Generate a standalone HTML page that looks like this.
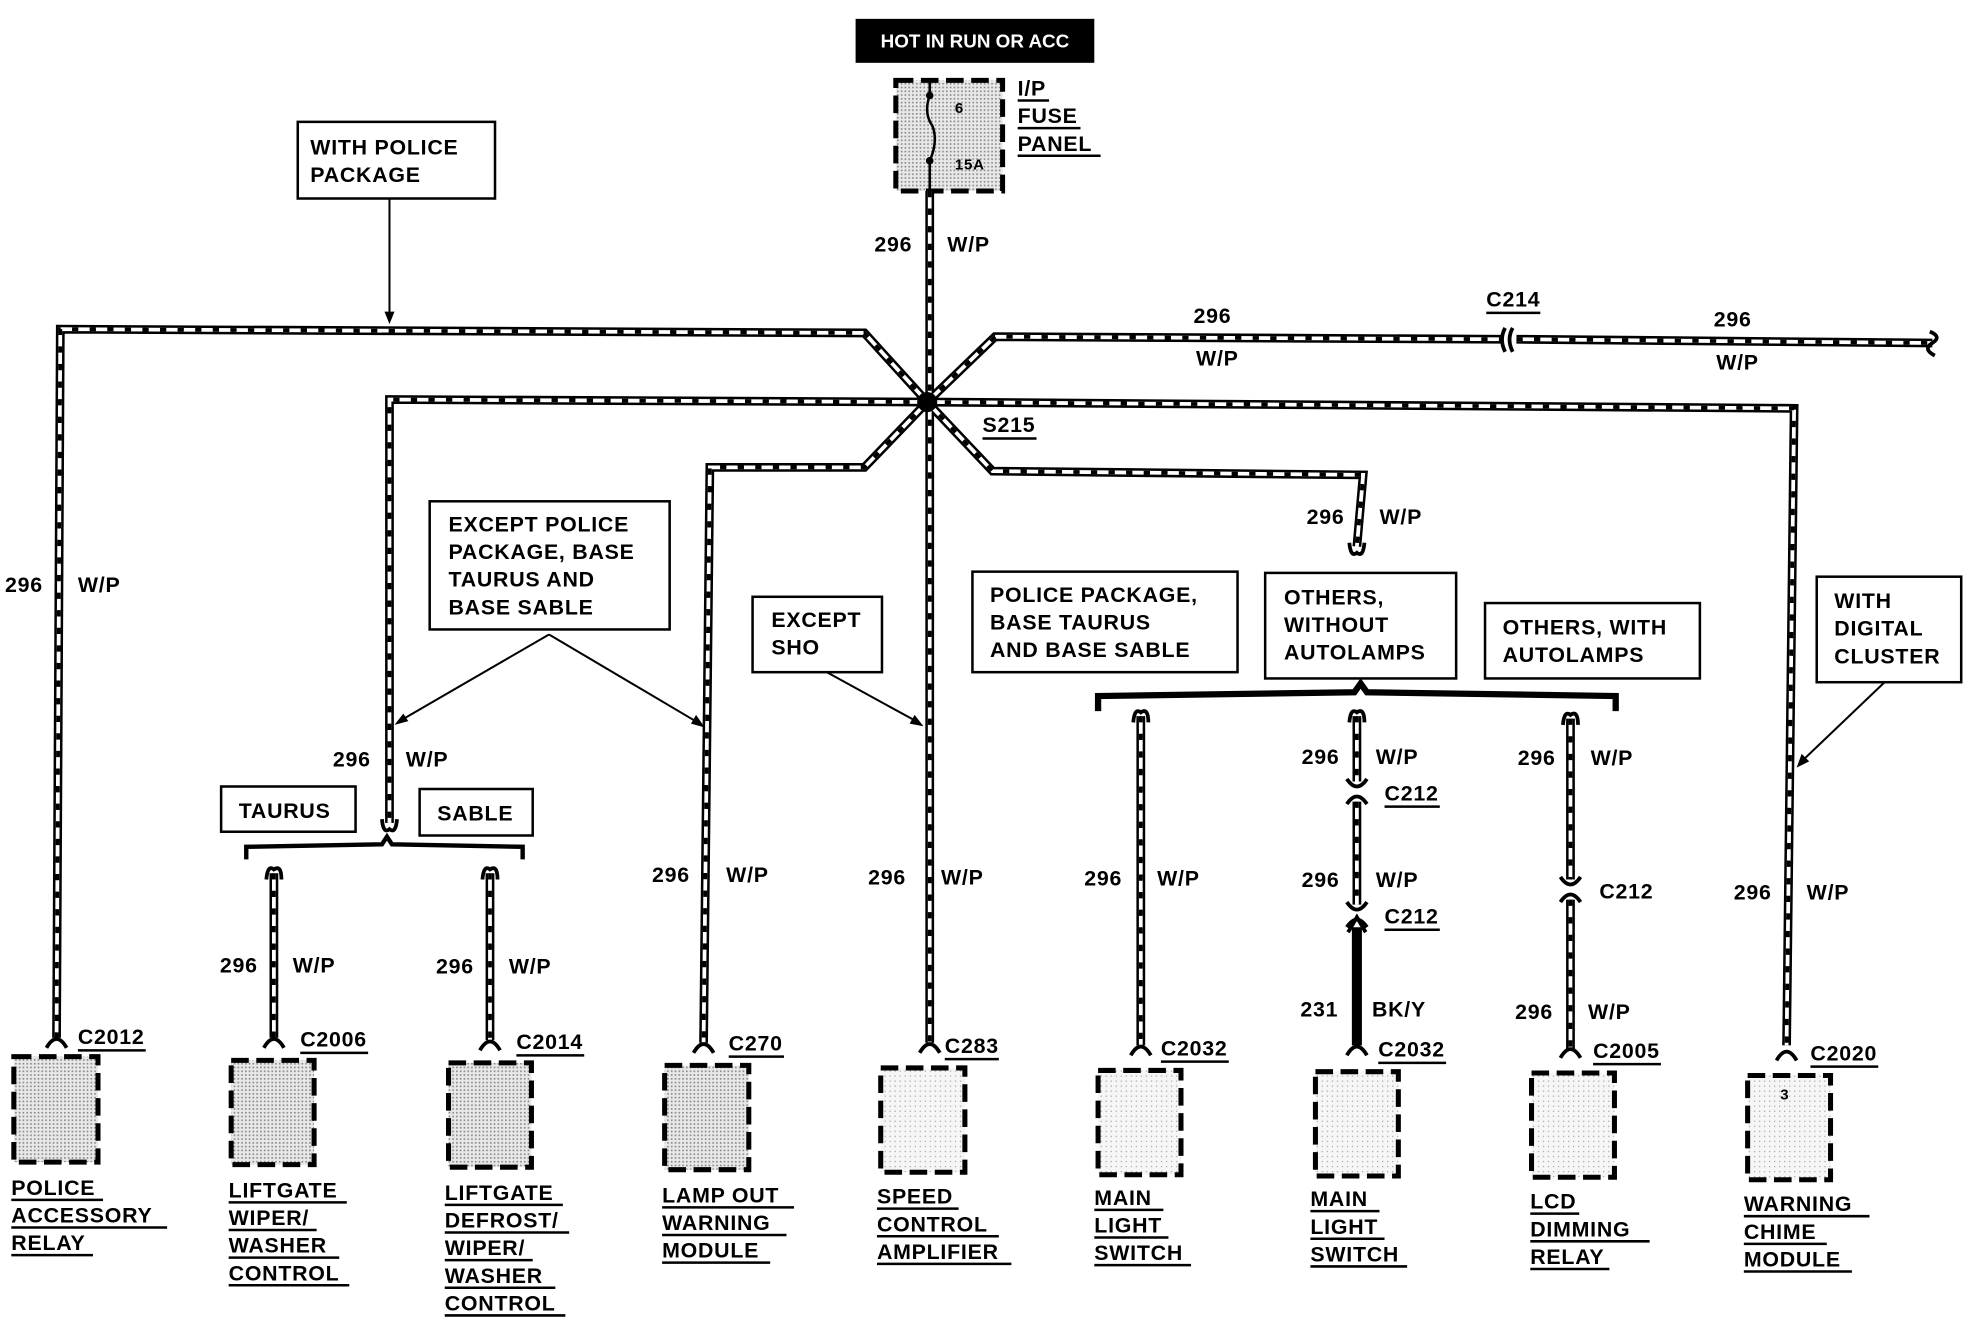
<!DOCTYPE html>
<html><head><meta charset="utf-8"><style>
html,body{margin:0;padding:0;background:#fff;}
svg{display:block;}
text{font-family:"Liberation Sans",Arial,sans-serif;font-weight:bold;fill:#000;letter-spacing:0.6px;}
.t{font-size:17px;}
.l{font-size:17px;}
.wo{fill:none;stroke:#000;stroke-width:7;stroke-linejoin:miter;}
.wi{fill:none;stroke:#fff;stroke-width:3;stroke-linejoin:miter;}
.wh{fill:none;stroke:#000;stroke-width:3;stroke-dasharray:5 9;}
.bx{fill:#fff;stroke:#000;stroke-width:2;}
.cb{fill:url(#dots);stroke:#000;stroke-width:4;stroke-dasharray:14 6;}
.cbl{fill:url(#dots2);stroke:#000;stroke-width:4;stroke-dasharray:14 6;}
.ln{stroke:#000;stroke-width:1.6;fill:none;}
.u{stroke:#000;stroke-width:2;}
.cn{fill:none;stroke:#000;stroke-width:3;}
</style></head><body>
<svg width="1970" height="1328" viewBox="0 0 1568 1057" preserveAspectRatio="none" xmlns="http://www.w3.org/2000/svg">
<defs>
<pattern id="dots" width="3" height="3" patternUnits="userSpaceOnUse"><rect width="3" height="3" fill="#e8e8e8"/><rect width="1.3" height="1.3" fill="#888"/></pattern>
<pattern id="dots2" width="4" height="4" patternUnits="userSpaceOnUse"><rect width="4" height="4" fill="#f6f6f6"/><rect width="1" height="1" fill="#aaa"/></pattern>
<path id="w1" d="M738,320 L688,265 L48,262 L45,826"/>
<path id="w2" d="M738,320 L792,268 L1195,270"/>
<path id="w2b" d="M1207,270 L1538,273"/>
<path id="w3" d="M738,320 L310,318 L310,655"/>
<path id="w4" d="M738,320 L1428,325 L1422,832"/>
<path id="w5" d="M738,320 L688,372 L565,372 L560,830"/>
<path id="w6" d="M738,320 L790,375 L1085,378 L1080,435"/>
<path id="w7" d="M740,152 L740,830"/>
<path id="b1" d="M218,695 L218,826"/>
<path id="b2" d="M390,695 L390,828"/>
<path id="b3" d="M908,570 L908,832"/>
<path id="b4" d="M1080,570 L1080,622"/>
<path id="b4b" d="M1080,638 L1080,720"/>
<path id="b6" d="M1250,572 L1250,700"/>
<path id="b6b" d="M1250,716 L1250,836"/>
</defs>

<rect x="681" y="15" width="190" height="35" fill="#000"/>
<text x="776" y="38" text-anchor="middle" style="font-size:15px;fill:#fff;letter-spacing:0">HOT IN RUN OR ACC</text>

<rect x="713" y="64" width="85" height="88" class="cb"/>
<path d="M740,64 L740,76 Q735,90 742,100 Q747,112 740,128 L740,152" fill="none" stroke="#000" stroke-width="2"/>
<circle cx="740" cy="76" r="3"/><circle cx="740" cy="128" r="3"/>
<text x="760" y="90" style="font-size:12px">6</text>
<text x="760" y="135" style="font-size:12px">15A</text>
<text x="810" y="76" class="l">I/P</text><line x1="810" y1="80" x2="835" y2="80" class="u"/>
<text x="810" y="98" class="l">FUSE</text><line x1="810" y1="102" x2="860" y2="102" class="u"/>
<text x="810" y="120" class="l">PANEL</text><line x1="810" y1="124" x2="876" y2="124" class="u"/>

<g>
<use href="#w1" class="wo"/><use href="#w2" class="wo"/><use href="#w2b" class="wo"/><use href="#w3" class="wo"/><use href="#w4" class="wo"/><use href="#w5" class="wo"/><use href="#w6" class="wo"/><use href="#w7" class="wo"/>
<use href="#b1" class="wo"/><use href="#b2" class="wo"/><use href="#b3" class="wo"/><use href="#b4" class="wo"/><use href="#b4b" class="wo"/><use href="#b6" class="wo"/><use href="#b6b" class="wo"/>
<use href="#w1" class="wi"/><use href="#w2" class="wi"/><use href="#w2b" class="wi"/><use href="#w3" class="wi"/><use href="#w4" class="wi"/><use href="#w5" class="wi"/><use href="#w6" class="wi"/><use href="#w7" class="wi"/>
<use href="#b1" class="wi"/><use href="#b2" class="wi"/><use href="#b3" class="wi"/><use href="#b4" class="wi"/><use href="#b4b" class="wi"/><use href="#b6" class="wi"/><use href="#b6b" class="wi"/>
<use href="#w1" class="wh"/><use href="#w2" class="wh"/><use href="#w2b" class="wh"/><use href="#w3" class="wh"/><use href="#w4" class="wh"/><use href="#w5" class="wh"/><use href="#w6" class="wh"/><use href="#w7" class="wh"/>
<use href="#b1" class="wh"/><use href="#b2" class="wh"/><use href="#b3" class="wh"/><use href="#b4" class="wh"/><use href="#b4b" class="wh"/><use href="#b6" class="wh"/><use href="#b6b" class="wh"/>
</g>
<path d="M1080,738 L1080,832" stroke="#000" stroke-width="8" fill="none"/>
<path d="M1073,742 L1080,730 L1087,742" stroke="#000" stroke-width="3" fill="none"/>
<circle cx="738" cy="320" r="8" fill="#000"/>
<text x="782" y="344" class="t">S215</text><line x1="782" y1="349" x2="825" y2="349" class="u"/>
<path d="M1198,261 Q1193,270 1198,280 M1204,261 Q1199,270 1204,280" class="cn"/>
<text x="1183" y="244" class="t">C214</text><line x1="1183" y1="249" x2="1226" y2="249" class="u"/>
<path d="M1536,264 Q1546,268 1538,273 Q1530,278 1540,283" class="cn" stroke-width="2"/>
<path d="M304,652 Q305,664 310,660 Q315,664 316,652" class="cn" stroke-width="2"/>
<path d="M1074,432 Q1075,444 1080,440 Q1085,444 1086,432" class="cn" stroke-width="2"/>
<path d="M1072,620 Q1080,632 1088,620 M1072,640 Q1080,628 1088,640" class="cn"/>
<path d="M1072,718 Q1080,730 1088,718 M1072,738 Q1080,726 1088,738" class="cn"/>
<path d="M1242,698 Q1250,710 1258,698 M1242,718 Q1250,706 1258,718" class="cn"/>
<path d="M212,700 Q213,688 218,692 Q224,688 224,700" class="cn" stroke-width="2"/>
<path d="M384,700 Q385,688 390,692 Q396,688 396,700" class="cn" stroke-width="2"/>
<path d="M902,575 Q903,563 908,567 Q914,563 914,575" class="cn" stroke-width="2"/>
<path d="M1074,575 Q1075,563 1080,567 Q1086,563 1086,575" class="cn" stroke-width="2"/>
<path d="M1244,577 Q1245,565 1250,569 Q1256,565 1256,577" class="cn" stroke-width="2"/>
<path d="M196,684 L196,674 L304,672 L308,666 L312,672 L416,674 L416,684" stroke="#000" stroke-width="3.5" fill="none"/>
<path d="M874,566 L874,554 L1078,551 L1083,544 L1088,551 L1286,554 L1286,566" stroke="#000" stroke-width="5" fill="none"/>

<g class="cn">
<path d="M37,834 Q45,820 53,834"/><path d="M210,834 Q218,820 226,834"/><path d="M382,836 Q390,822 398,836"/>
<path d="M552,838 Q560,824 568,838"/><path d="M732,838 Q740,824 748,838"/><path d="M900,840 Q908,826 916,840"/>
<path d="M1072,840 Q1080,826 1088,840"/><path d="M1242,842 Q1250,828 1258,842"/><path d="M1414,844 Q1422,830 1430,844"/>
</g>
<g class="t">
<text x="62" y="831">C2012</text><line x1="62" y1="836" x2="116" y2="836" class="u"/>
<text x="239" y="833">C2006</text><line x1="239" y1="838" x2="293" y2="838" class="u"/>
<text x="411" y="835">C2014</text><line x1="411" y1="840" x2="465" y2="840" class="u"/>
<text x="580" y="836">C270</text><line x1="580" y1="841" x2="624" y2="841" class="u"/>
<text x="752" y="838">C283</text><line x1="752" y1="843" x2="795" y2="843" class="u"/>
<text x="924" y="840">C2032</text><line x1="924" y1="845" x2="978" y2="845" class="u"/>
<text x="1097" y="841">C2032</text><line x1="1097" y1="846" x2="1151" y2="846" class="u"/>
<text x="1268" y="842">C2005</text><line x1="1268" y1="847" x2="1322" y2="847" class="u"/>
<text x="1441" y="844">C2020</text><line x1="1441" y1="849" x2="1495" y2="849" class="u"/>
<text x="1102" y="637">C212</text><line x1="1102" y1="642" x2="1146" y2="642" class="u"/>
<text x="1102" y="735">C212</text><line x1="1102" y1="740" x2="1146" y2="740" class="u"/>
<text x="1273" y="715">C212</text>
</g>

<rect x="11" y="841" width="67" height="84" class="cb"/>
<rect x="184" y="844" width="66" height="83" class="cb"/>
<rect x="357" y="846" width="66" height="83" class="cb"/>
<rect x="529" y="848" width="67" height="83" class="cb"/>
<rect x="701" y="850" width="67" height="83" class="cbl"/>
<rect x="874" y="852" width="66" height="83" class="cbl"/>
<rect x="1047" y="853" width="66" height="83" class="cbl"/>
<rect x="1219" y="854" width="66" height="83" class="cbl"/>
<rect x="1391" y="856" width="66" height="83" class="cbl"/>
<text x="1417" y="875" style="font-size:12px">3</text>

<g class="l">
<text x="9" y="951">POLICE</text><line x1="9" y1="955" x2="82" y2="955" class="u"/>
<text x="9" y="973">ACCESSORY</text><line x1="9" y1="977" x2="133" y2="977" class="u"/>
<text x="9" y="995">RELAY</text><line x1="9" y1="999" x2="74" y2="999" class="u"/>
<text x="182" y="953">LIFTGATE</text><line x1="182" y1="957" x2="276" y2="957" class="u"/>
<text x="182" y="975">WIPER/</text><line x1="182" y1="979" x2="252" y2="979" class="u"/>
<text x="182" y="997">WASHER</text><line x1="182" y1="1001" x2="270" y2="1001" class="u"/>
<text x="182" y="1019">CONTROL</text><line x1="182" y1="1023" x2="278" y2="1023" class="u"/>
<text x="354" y="955">LIFTGATE</text><line x1="354" y1="959" x2="448" y2="959" class="u"/>
<text x="354" y="977">DEFROST/</text><line x1="354" y1="981" x2="453" y2="981" class="u"/>
<text x="354" y="999">WIPER/</text><line x1="354" y1="1003" x2="424" y2="1003" class="u"/>
<text x="354" y="1021">WASHER</text><line x1="354" y1="1025" x2="442" y2="1025" class="u"/>
<text x="354" y="1043">CONTROL</text><line x1="354" y1="1047" x2="450" y2="1047" class="u"/>
<text x="527" y="957">LAMP OUT</text><line x1="527" y1="961" x2="632" y2="961" class="u"/>
<text x="527" y="979">WARNING</text><line x1="527" y1="983" x2="626" y2="983" class="u"/>
<text x="527" y="1001">MODULE</text><line x1="527" y1="1005" x2="613" y2="1005" class="u"/>
<text x="698" y="958">SPEED</text><line x1="698" y1="962" x2="763" y2="962" class="u"/>
<text x="698" y="980">CONTROL</text><line x1="698" y1="984" x2="795" y2="984" class="u"/>
<text x="698" y="1002">AMPLIFIER</text><line x1="698" y1="1006" x2="805" y2="1006" class="u"/>
<text x="871" y="959">MAIN</text><line x1="871" y1="963" x2="926" y2="963" class="u"/>
<text x="871" y="981">LIGHT</text><line x1="871" y1="985" x2="930" y2="985" class="u"/>
<text x="871" y="1003">SWITCH</text><line x1="871" y1="1007" x2="948" y2="1007" class="u"/>
<text x="1043" y="960">MAIN</text><line x1="1043" y1="964" x2="1098" y2="964" class="u"/>
<text x="1043" y="982">LIGHT</text><line x1="1043" y1="986" x2="1102" y2="986" class="u"/>
<text x="1043" y="1004">SWITCH</text><line x1="1043" y1="1008" x2="1120" y2="1008" class="u"/>
<text x="1218" y="962">LCD</text><line x1="1218" y1="966" x2="1257" y2="966" class="u"/>
<text x="1218" y="984">DIMMING</text><line x1="1218" y1="988" x2="1313" y2="988" class="u"/>
<text x="1218" y="1006">RELAY</text><line x1="1218" y1="1010" x2="1281" y2="1010" class="u"/>
<text x="1388" y="964">WARNING</text><line x1="1388" y1="968" x2="1488" y2="968" class="u"/>
<text x="1388" y="986">CHIME</text><line x1="1388" y1="990" x2="1454" y2="990" class="u"/>
<text x="1388" y="1008">MODULE</text><line x1="1388" y1="1012" x2="1474" y2="1012" class="u"/>
</g>

<g class="t">
<text x="696" y="200">296</text><text x="754" y="200">W/P</text>
<text x="950" y="257">296</text><text x="952" y="291">W/P</text>
<text x="1364" y="260">296</text><text x="1366" y="294">W/P</text>
<text x="1040" y="417">296</text><text x="1098" y="417">W/P</text>
<text x="4" y="471">296</text><text x="62" y="471">W/P</text>
<text x="265" y="610">296</text><text x="323" y="610">W/P</text>
<text x="519" y="702">296</text><text x="578" y="702">W/P</text>
<text x="691" y="704">296</text><text x="749" y="704">W/P</text>
<text x="863" y="705">296</text><text x="921" y="705">W/P</text>
<text x="1036" y="608">296</text><text x="1095" y="608">W/P</text>
<text x="1036" y="706">296</text><text x="1095" y="706">W/P</text>
<text x="1035" y="809">231</text><text x="1092" y="809">BK/Y</text>
<text x="1208" y="609">296</text><text x="1266" y="609">W/P</text>
<text x="1206" y="811">296</text><text x="1264" y="811">W/P</text>
<text x="1380" y="716">296</text><text x="1438" y="716">W/P</text>
<text x="175" y="774">296</text><text x="233" y="774">W/P</text>
<text x="347" y="775">296</text><text x="405" y="775">W/P</text>
</g>

<rect x="237" y="97" width="157" height="61" class="bx"/>
<text x="247" y="123" class="t">WITH POLICE</text><text x="247" y="145" class="t">PACKAGE</text>
<line x1="310" y1="158" x2="310" y2="252" class="ln"/><path d="M306,248 L310,258 L314,248Z"/>

<rect x="342" y="399" width="191" height="102" class="bx"/>
<text x="357" y="423" class="t">EXCEPT POLICE</text><text x="357" y="445" class="t">PACKAGE, BASE</text>
<text x="357" y="467" class="t">TAURUS AND</text><text x="357" y="489" class="t">BASE SABLE</text>
<line x1="437" y1="505" x2="318" y2="574" class="ln"/><path d="M314,577 L321,568 L325,574Z"/>
<line x1="437" y1="505" x2="557" y2="576" class="ln"/><path d="M561,579 L550,576 L554,569Z"/>

<rect x="599" y="475" width="103" height="60" class="bx"/>
<text x="614" y="499" class="t">EXCEPT</text><text x="614" y="521" class="t">SHO</text>
<line x1="658" y1="535" x2="731" y2="575" class="ln"/><path d="M735,578 L724,576 L728,569Z"/>

<rect x="774" y="455" width="211" height="80" class="bx"/>
<text x="788" y="479" class="t">POLICE PACKAGE,</text><text x="788" y="501" class="t">BASE TAURUS</text><text x="788" y="523" class="t">AND BASE SABLE</text>

<rect x="1007" y="456" width="152" height="84" class="bx"/>
<text x="1022" y="481" class="t">OTHERS,</text><text x="1022" y="503" class="t">WITHOUT</text><text x="1022" y="525" class="t">AUTOLAMPS</text>

<rect x="1182" y="480" width="171" height="60" class="bx"/>
<text x="1196" y="505" class="t">OTHERS, WITH</text><text x="1196" y="527" class="t">AUTOLAMPS</text>

<rect x="1446" y="459" width="115" height="84" class="bx"/>
<text x="1460" y="484" class="t">WITH</text><text x="1460" y="506" class="t">DIGITAL</text><text x="1460" y="528" class="t">CLUSTER</text>
<line x1="1500" y1="543" x2="1434" y2="606" class="ln"/><path d="M1430,611 L1434,600 L1440,606Z"/>

<rect x="176" y="626" width="107" height="36" class="bx"/>
<text x="190" y="651" class="t">TAURUS</text>
<rect x="334" y="628" width="90" height="37" class="bx"/>
<text x="348" y="653" class="t">SABLE</text>
</svg>
</body></html>
